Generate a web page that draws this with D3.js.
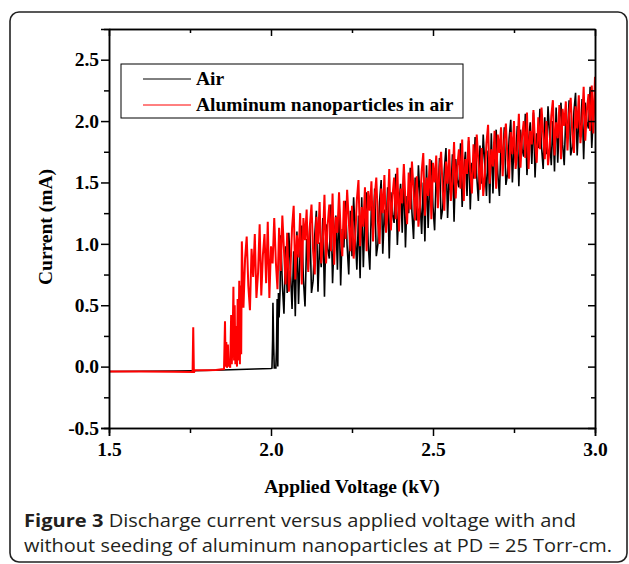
<!DOCTYPE html>
<html lang="en">
<head>
    <meta charset="UTF-8">
    <title>Discharge current vs applied voltage</title>
    <style>
        body { margin: 0; background: #fff; }
        .axis path, .axis line { stroke: #000; stroke-width: 1.5; }
        .axis text { font-family: "Liberation Serif", serif; font-weight: bold; font-size: 19.5px; fill: #000; }
        .trace { fill: none; stroke-linejoin: miter; }
        .serif { font-family: "Liberation Serif", serif; font-weight: bold; font-size: 19.5px; }
        .caption { font-family: "Open Sans", sans-serif; font-size: 18.5px; fill: #231f20; }
    </style>
</head>
<body>
<svg id="chart" width="629" height="564"></svg>

<script src="https://cdn.jsdelivr.net/npm/d3@7"></script>
<script>

    // ---- data ----
    let xTicks = [1.5, 2.0, 2.5, 3.0]
    let xMinor = [1.75, 2.25, 2.75]
    let yTicks = [-0.5, 0.0, 0.5, 1.0, 1.5, 2.0, 2.5]
    let yMinor = [-0.25, 0.25, 0.75, 1.25, 1.75, 2.25]
    let seriesNames = ["Air", "Aluminum nanoparticles in air"]

    // Air: flat baseline and breakdown step, [kV, mA]
    let airPre = [
        [1.5, -0.040], [1.6, -0.038], [1.7, -0.036], [1.76, -0.034], [1.85, -0.028],
        [1.95, -0.020], [2.0, -0.015], [2.003, -0.013], [2.005, 0.22], [2.006, 0.52],
        [2.008, 0.20], [2.010, -0.010], [2.015, -0.010], [2.017, 0.15], [2.019, 0.55],
        [2.021, 0.00], [2.023, 0.60], [2.025, 0.40], [2.028, 0.62]
    ]
    // Air: noisy part, sampled every 0.005 kV from 2.03 kV
    let airNoiseStart = 2.03
    let airNoiseStep = 0.005
    let airNoise = [
        1.07, 0.67, 0.43, 0.98, 0.60, 1.09, 0.78, 0.47, 0.94, 0.41,
        1.10, 0.51, 0.95, 1.15, 0.71, 0.49, 1.04, 0.79, 1.17, 0.60,
        0.70, 1.07, 1.27, 0.61, 1.01, 0.81, 1.21, 0.57, 1.16, 0.96,
        0.88, 1.32, 0.68, 1.05, 1.23, 0.79, 1.34, 0.66, 1.12, 0.97,
        1.35, 0.98, 0.75, 1.27, 0.90, 1.38, 1.08, 0.79, 1.23, 0.72,
        1.38, 0.81, 1.24, 1.42, 1.00, 0.79, 1.32, 1.08, 1.45, 0.90,
        1.00, 1.34, 1.52, 0.92, 1.28, 1.10, 1.46, 0.88, 1.42, 1.24,
        1.17, 1.57, 0.99, 1.32, 1.49, 1.09, 1.59, 0.97, 1.39, 1.25,
        1.62, 1.26, 1.04, 1.54, 1.19, 1.64, 1.36, 1.08, 1.50, 1.02,
        1.64, 1.13, 1.51, 1.68, 1.30, 1.11, 1.58, 1.36, 1.70, 1.20,
        1.29, 1.61, 1.78, 1.21, 1.56, 1.39, 1.73, 1.18, 1.69, 1.52,
        1.46, 1.82, 1.30, 1.60, 1.75, 1.39, 1.84, 1.28, 1.66, 1.53,
        1.87, 1.55, 1.35, 1.80, 1.49, 1.89, 1.64, 1.39, 1.76, 1.33,
        1.90, 1.41, 1.77, 1.93, 1.57, 1.39, 1.84, 1.64, 1.95, 1.48,
        1.57, 1.86, 2.01, 1.50, 1.81, 1.66, 1.96, 1.47, 1.93, 1.77,
        1.71, 2.06, 1.56, 1.84, 1.99, 1.65, 2.07, 1.54, 1.90, 1.78,
        2.10, 1.79, 1.61, 2.03, 1.73, 2.12, 1.88, 1.64, 2.00, 1.59,
        2.11, 1.66, 2.00, 2.15, 1.81, 1.64, 2.06, 1.87, 2.17, 1.72,
        1.79, 2.08, 2.23, 1.72, 2.03, 1.87, 2.18, 1.69, 2.15, 1.99,
        1.94, 2.28, 1.78, 2.06, 2.21
    ]

    // Al nanoparticles: baseline, early spike and pre-breakdown bursts, [kV, mA]
    let alPre = [
        [1.5, -0.040], [1.6, -0.040], [1.7, -0.042], [1.758, -0.043], [1.760, 0.32],
        [1.762, -0.050], [1.765, -0.030], [1.80, -0.030], [1.83, -0.027], [1.855, -0.020],
        [1.858, 0.37], [1.860, 0.00], [1.862, 0.20], [1.864, -0.01], [1.867, 0.18],
        [1.869, 0.00], [1.872, 0.05], [1.874, -0.01], [1.877, 0.42], [1.879, 0.02],
        [1.882, 0.30], [1.884, 0.65], [1.886, 0.05], [1.888, 0.50], [1.890, 0.02],
        [1.893, 0.33], [1.895, 0.00], [1.897, 0.55], [1.899, 0.05], [1.902, 0.70],
        [1.904, 0.02], [1.906, 0.66], [1.908, 0.10]
    ]
    // Al nanoparticles: noisy part, sampled every 0.005 kV from 1.91 kV
    let alNoiseStart = 1.91
    let alNoiseStep = 0.005
    let alNoise = [
        1.02, 0.48, 0.88, 1.06, 0.66, 0.46, 0.96, 0.73, 1.08, 0.56,
        0.76, 1.16, 0.58, 0.91, 1.08, 0.68, 1.18, 0.56, 0.98, 0.84,
        1.21, 0.85, 0.63, 1.13, 0.78, 1.23, 0.95, 0.67, 1.09, 0.61,
        0.79, 1.13, 1.31, 0.71, 1.07, 0.89, 1.25, 0.67, 1.21, 1.03,
        1.28, 0.77, 1.15, 1.32, 0.94, 0.75, 1.22, 1.00, 1.34, 0.84,
        1.02, 1.40, 0.84, 1.16, 1.32, 0.94, 1.41, 0.83, 1.22, 1.09,
        1.42, 1.10, 0.90, 1.35, 1.04, 1.44, 1.19, 0.94, 1.31, 0.88,
        1.05, 1.36, 1.52, 0.98, 1.30, 1.14, 1.46, 0.94, 1.43, 1.27,
        1.51, 1.02, 1.38, 1.54, 1.18, 1.00, 1.45, 1.25, 1.56, 1.09,
        1.27, 1.61, 1.11, 1.39, 1.54, 1.20, 1.62, 1.10, 1.45, 1.33,
        1.65, 1.34, 1.16, 1.58, 1.28, 1.67, 1.43, 1.19, 1.55, 1.14,
        1.30, 1.59, 1.74, 1.23, 1.54, 1.39, 1.69, 1.20, 1.66, 1.50,
        1.72, 1.29, 1.61, 1.75, 1.43, 1.27, 1.67, 1.49, 1.77, 1.35,
        1.51, 1.83, 1.37, 1.63, 1.77, 1.45, 1.85, 1.35, 1.69, 1.57,
        1.87, 1.59, 1.41, 1.81, 1.53, 1.89, 1.67, 1.44, 1.78, 1.39,
        1.55, 1.82, 1.97, 1.49, 1.77, 1.63, 1.92, 1.45, 1.89, 1.74,
        1.95, 1.55, 1.85, 1.98, 1.68, 1.53, 1.91, 1.73, 2.00, 1.61,
        1.76, 2.06, 1.62, 1.87, 2.00, 1.70, 2.07, 1.61, 1.92, 1.81,
        2.09, 1.82, 1.66, 2.03, 1.77, 2.11, 1.90, 1.69, 2.00, 1.64,
        1.78, 2.04, 2.17, 1.72, 1.99, 1.86, 2.13, 1.69, 2.10, 1.96,
        2.16, 1.76, 2.06, 2.19, 1.89, 1.74, 2.12, 1.94, 2.21, 1.82,
        1.98, 2.28, 1.84, 2.09, 2.22, 1.92, 2.29, 1.90, 2.36
    ]

    let captionBold = "Figure 3"
    let captionLine1 = " Discharge current versus applied voltage with and"
    let captionLine2 = "without seeding of aluminum nanoparticles at PD = 25 Torr-cm."

    // ---- build series ----
    let airData = airPre.concat(airNoise.map((v, i) => [airNoiseStart + i * airNoiseStep, v]))
    let alData = alPre.concat(alNoise.map((v, i) => [alNoiseStart + i * alNoiseStep, v]))

    let svg = d3.select("#chart")

    let plotLeft = 109, plotRight = 595, plotTop = 29, plotBottom = 428

    let x = d3.scaleLinear().domain([1.5, 3.0]).range([plotLeft, plotRight])
    let y = d3.scaleLinear().domain([-0.5, 2.75]).range([plotBottom, plotTop])

    // outer frame of the figure panel
    svg.append("rect")
        .attr("x", 10).attr("y", 12)
        .attr("width", 617).attr("height", 550)
        .attr("rx", 9)
        .attr("fill", "none")
        .attr("stroke", "#222")
        .attr("stroke-width", 1.6)

    let fmt = d => d.toFixed(1)

    // traces
    let line = d3.line()
        .x(d => x(d[0]))
        .y(d => y(d[1]))

    svg.append("path")
        .datum(airData)
        .attr("class", "trace")
        .attr("stroke", "#000")
        .attr("stroke-width", 1.6)
        .attr("d", line)

    svg.append("path")
        .datum(alData)
        .attr("class", "trace")
        .attr("stroke", "#ff0000")
        .attr("stroke-width", 2)
        .attr("d", line)

    // axes: left/bottom ticks out, top/right ticks in
    svg.append("g").attr("class", "axis")
        .attr("transform", `translate(${plotLeft},0)`)
        .call(d3.axisLeft(y).tickValues(yTicks).tickFormat(fmt).tickSize(8).tickPadding(2))
    svg.append("g").attr("class", "axis")
        .attr("transform", `translate(${plotLeft},0)`)
        .call(d3.axisLeft(y).tickValues(yMinor).tickFormat("").tickSize(5))

    svg.append("g").attr("class", "axis")
        .attr("transform", `translate(0,${plotBottom})`)
        .call(d3.axisBottom(x).tickValues(xTicks).tickFormat(fmt).tickSize(8).tickPadding(6))
    svg.append("g").attr("class", "axis")
        .attr("transform", `translate(0,${plotBottom})`)
        .call(d3.axisBottom(x).tickValues(xMinor).tickFormat("").tickSize(5))

    svg.append("g").attr("class", "axis")
        .attr("transform", `translate(0,${plotTop})`)
        .call(d3.axisBottom(x).tickValues(xTicks).tickFormat("").tickSizeInner(7).tickSizeOuter(0))
    svg.append("g").attr("class", "axis")
        .attr("transform", `translate(0,${plotTop})`)
        .call(d3.axisBottom(x).tickValues(xMinor).tickFormat("").tickSizeInner(4).tickSizeOuter(0))

    svg.append("g").attr("class", "axis")
        .attr("transform", `translate(${plotRight},0)`)
        .call(d3.axisLeft(y).tickValues(yTicks).tickFormat("").tickSizeInner(7).tickSizeOuter(0))
    svg.append("g").attr("class", "axis")
        .attr("transform", `translate(${plotRight},0)`)
        .call(d3.axisLeft(y).tickValues(yMinor).tickFormat("").tickSizeInner(4).tickSizeOuter(0))

    // axis titles
    svg.append("text")
        .attr("class", "serif")
        .attr("text-anchor", "middle")
        .attr("transform", "translate(52,227) rotate(-90)")
        .text("Current (mA)")

    svg.append("text")
        .attr("class", "serif")
        .attr("text-anchor", "middle")
        .attr("x", 352).attr("y", 493)
        .text("Applied Voltage (kV)")

    // legend
    let legend = svg.append("g")
    legend.append("rect")
        .attr("x", 121).attr("y", 64)
        .attr("width", 342).attr("height", 54)
        .attr("fill", "#fff")
        .attr("stroke", "#000")
        .attr("stroke-width", 1)
    let legendColors = ["#000", "#ff0000"]
    seriesNames.forEach((name, i) => {
        let ly = 79 + i * 26
        legend.append("line")
            .attr("x1", 143).attr("x2", 191)
            .attr("y1", ly).attr("y2", ly)
            .attr("stroke", legendColors[i])
            .attr("stroke-width", 1)
        legend.append("text")
            .attr("class", "serif")
            .attr("x", 196).attr("y", ly + 6)
            .text(name)
    })

    // caption
    let cap1 = svg.append("text")
        .attr("class", "caption")
        .attr("x", 24).attr("y", 527)
        .attr("textLength", 552)
        .attr("lengthAdjust", "spacingAndGlyphs")
    cap1.append("tspan").attr("font-weight", "bold").text(captionBold)
    cap1.append("tspan").text(captionLine1)

    svg.append("text")
        .attr("class", "caption")
        .attr("x", 24).attr("y", 552)
        .attr("textLength", 588)
        .attr("lengthAdjust", "spacingAndGlyphs")
        .text(captionLine2)

</script>
</body>
</html>
